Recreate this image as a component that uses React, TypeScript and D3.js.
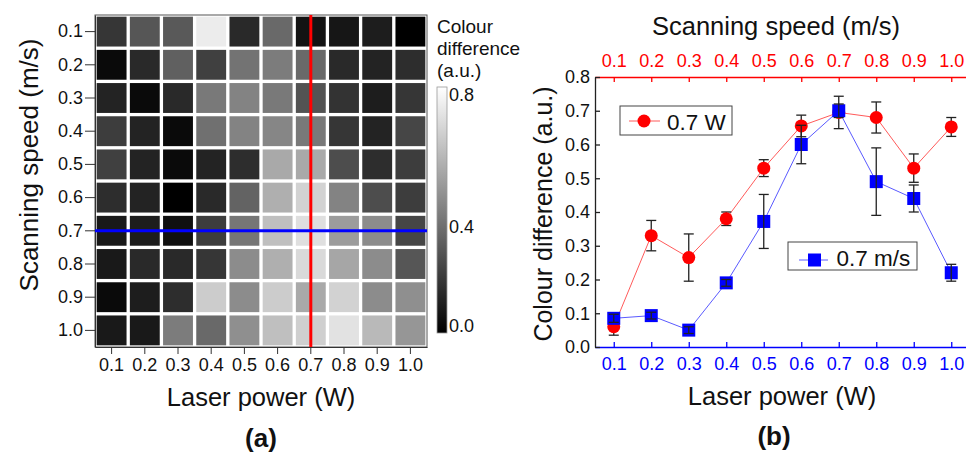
import { useRef, useEffect } from 'react';
import * as d3 from 'd3';

const powers = ['0.1', '0.2', '0.3', '0.4', '0.5', '0.6', '0.7', '0.8', '0.9', '1.0'];
const speeds = ['0.1', '0.2', '0.3', '0.4', '0.5', '0.6', '0.7', '0.8', '0.9', '1.0'];

// rows: scanning speed 0.1 -> 1.0, columns: laser power 0.1 -> 1.0
const heatValues = [
  [0.17, 0.27, 0.28, 0.74, 0.13, 0.33, 0.06, 0.07, 0.09, 0.0],
  [0.03, 0.13, 0.3, 0.2, 0.36, 0.39, 0.33, 0.13, 0.11, 0.14],
  [0.11, 0.03, 0.13, 0.38, 0.41, 0.38, 0.26, 0.16, 0.09, 0.17],
  [0.19, 0.11, 0.03, 0.35, 0.41, 0.42, 0.38, 0.17, 0.11, 0.22],
  [0.2, 0.11, 0.03, 0.11, 0.14, 0.53, 0.53, 0.24, 0.14, 0.19],
  [0.14, 0.11, 0.0, 0.13, 0.31, 0.55, 0.66, 0.41, 0.24, 0.19],
  [0.08, 0.09, 0.05, 0.19, 0.37, 0.6, 0.7, 0.49, 0.44, 0.22],
  [0.08, 0.13, 0.13, 0.17, 0.44, 0.55, 0.68, 0.52, 0.44, 0.27],
  [0.03, 0.09, 0.14, 0.64, 0.44, 0.64, 0.53, 0.66, 0.44, 0.45],
  [0.08, 0.08, 0.39, 0.33, 0.45, 0.6, 0.65, 0.71, 0.58, 0.47],
];

const colourTicks = [0, 0.4, 0.8];
const yTicks = [0, 0.1, 0.2, 0.3, 0.4, 0.5, 0.6, 0.7, 0.8];
const xValues = [0.1, 0.2, 0.3, 0.4, 0.5, 0.6, 0.7, 0.8, 0.9, 1.0];

// 0.7 W, against scanning speed (top axis)
const powerSeries = [0.06, 0.33, 0.265, 0.38, 0.53, 0.655, 0.695, 0.68, 0.53, 0.652];
const powerErrors = [0.025, 0.045, 0.07, 0.02, 0.025, 0.032, 0.048, 0.046, 0.042, 0.028];
// 0.7 m/s, against laser power (bottom axis)
const speedSeries = [0.085, 0.093, 0.05, 0.19, 0.372, 0.6, 0.7, 0.49, 0.44, 0.22];
const speedErrors = [0.012, 0.01, 0.01, 0.01, 0.08, 0.057, 0.02, 0.1, 0.04, 0.025];

const FONT = '"Liberation Sans", Arial, Helvetica, sans-serif';

function App() {
  const svgRef = useRef(null);
  const width = 966;
  const height = 458;

  useEffect(() => {
    const svg = d3.select(svgRef.current);
    svg.selectAll('*').remove();
    svg.style('font-family', FONT);

    // ---------- (a) heatmap ----------
    const hm = { left: 95, right: 427, top: 15, bottom: 347 };
    const x = d3.scaleBand().domain(powers).range([hm.left, hm.right]).paddingInner(0.1).paddingOuter(0.05);
    const y = d3.scaleBand().domain(speeds).range([hm.top, hm.bottom]).paddingInner(0.1).paddingOuter(0.05);
    const grey = d3.scaleLinear<string>().domain([0, 0.8]).range(['#000000', '#ffffff']).clamp(true);

    svg
      .append('rect')
      .attr('x', hm.left)
      .attr('y', hm.top)
      .attr('width', hm.right - hm.left)
      .attr('height', hm.bottom - hm.top)
      .attr('fill', '#fff');

    const cells = heatValues.flatMap((row, i) => row.map((v, j) => ({ speed: speeds[i], power: powers[j], v })));
    svg
      .append('g')
      .selectAll('rect')
      .data(cells)
      .join('rect')
      .attr('x', (d) => x(d.power))
      .attr('y', (d) => y(d.speed))
      .attr('width', x.bandwidth())
      .attr('height', y.bandwidth())
      .attr('fill', (d) => grey(d.v));

    svg
      .append('rect')
      .attr('x', hm.left)
      .attr('y', hm.top)
      .attr('width', hm.right - hm.left)
      .attr('height', hm.bottom - hm.top)
      .attr('fill', 'none')
      .attr('stroke', '#555')
      .attr('stroke-width', 1);

    const ax = svg
      .append('g')
      .attr('transform', `translate(0,${hm.bottom})`)
      .call(d3.axisBottom(x).tickSizeInner(7).tickSizeOuter(0).tickPadding(4));
    ax.select('.domain').attr('stroke', '#333');
    ax.selectAll('.tick line').attr('stroke', '#333');
    ax.selectAll('text').attr('font-size', 18).attr('font-family', FONT).attr('fill', '#111');

    const ay = svg
      .append('g')
      .attr('transform', `translate(${hm.left},0)`)
      .call(d3.axisLeft(y).tickSizeInner(10).tickSizeOuter(0).tickPadding(2));
    ay.select('.domain').attr('stroke', '#333');
    ay.selectAll('.tick line').attr('stroke', '#333');
    ay.selectAll('text').attr('font-size', 18).attr('font-family', FONT).attr('fill', '#111');

    // marker lines
    svg
      .append('line')
      .attr('x1', x('0.7') + x.bandwidth() / 2)
      .attr('x2', x('0.7') + x.bandwidth() / 2)
      .attr('y1', hm.top)
      .attr('y2', hm.bottom)
      .attr('stroke', '#ff0000')
      .attr('stroke-width', 3);
    svg
      .append('line')
      .attr('x1', hm.left)
      .attr('x2', hm.right)
      .attr('y1', y('0.7') + y.bandwidth() / 2)
      .attr('y2', y('0.7') + y.bandwidth() / 2)
      .attr('stroke', '#0000ff')
      .attr('stroke-width', 3);

    svg
      .append('text')
      .attr('x', 261)
      .attr('y', 406)
      .attr('text-anchor', 'middle')
      .attr('font-size', 25.5)
      .attr('fill', '#111')
      .text('Laser power (W)');
    svg
      .append('text')
      .attr('transform', 'translate(38,165) rotate(-90)')
      .attr('text-anchor', 'middle')
      .attr('font-size', 26)
      .attr('fill', '#111')
      .text('Scanning speed (m/s)');
    svg
      .append('text')
      .attr('x', 261)
      .attr('y', 447)
      .attr('text-anchor', 'middle')
      .attr('font-size', 26)
      .attr('font-weight', 700)
      .attr('fill', '#111')
      .text('(a)');

    // colour bar
    const grad = svg
      .append('defs')
      .append('linearGradient')
      .attr('id', 'cbar')
      .attr('x1', 0)
      .attr('y1', 1)
      .attr('x2', 0)
      .attr('y2', 0);
    grad.selectAll('stop')
      .data(colourTicks)
      .join('stop')
      .attr('offset', (d) => d / 0.8)
      .attr('stop-color', (d) => grey(d));
    svg
      .append('rect')
      .attr('x', 437)
      .attr('y', 87)
      .attr('width', 10)
      .attr('height', 246)
      .attr('fill', 'url(#cbar)')
      .attr('stroke', '#999')
      .attr('stroke-width', 0.8);
    const cbLabelY = d3.scaleLinear().domain([0, 0.4, 0.8]).range([326, 227, 95]);
    svg
      .append('g')
      .selectAll('text')
      .data(colourTicks)
      .join('text')
      .attr('x', 449)
      .attr('y', (d) => cbLabelY(d))
      .attr('dy', '0.36em')
      .attr('font-size', 18)
      .attr('fill', '#111')
      .text((d) => d3.format('.1f')(d));
    svg
      .append('text')
      .attr('font-size', 19)
      .attr('fill', '#111')
      .selectAll('tspan')
      .data(['Colour', 'difference', '(a.u.)'])
      .join('tspan')
      .attr('x', 437)
      .attr('y', (_, i) => 33 + i * 22)
      .text((d) => d);

    // ---------- (b) line chart ----------
    const xs = d3.scaleLinear().domain([0.05, 1.05]).range([595, 970]);
    const ys = d3.scaleLinear().domain([0, 0.8]).range([347, 77]);
    const fmt = d3.format('.1f');

    const bottom = svg
      .append('g')
      .attr('transform', 'translate(0,347)')
      .call(d3.axisBottom(xs).tickValues(xValues).tickFormat(fmt).tickSizeInner(-5).tickSizeOuter(0).tickPadding(10));
    bottom.selectAll('.domain, .tick line').attr('stroke', '#0000ff').attr('stroke-width', 1.3);
    bottom.selectAll('text').attr('font-size', 18).attr('font-family', FONT).attr('fill', '#0000ff');

    const top = svg
      .append('g')
      .attr('transform', 'translate(0,77)')
      .call(d3.axisTop(xs).tickValues(xValues).tickFormat(fmt).tickSizeInner(-5).tickSizeOuter(0).tickPadding(10));
    top.selectAll('.domain, .tick line').attr('stroke', '#ff0000').attr('stroke-width', 1.3);
    top.selectAll('text').attr('font-size', 18).attr('font-family', FONT).attr('fill', '#ff0000');

    const left = svg
      .append('g')
      .attr('transform', 'translate(595,0)')
      .call(d3.axisLeft(ys).tickValues(yTicks).tickFormat(fmt).tickSizeInner(-5).tickSizeOuter(0).tickPadding(5));
    left.selectAll('.domain, .tick line').attr('stroke', '#222').attr('stroke-width', 1.3);
    left.selectAll('text').attr('font-size', 18).attr('font-family', FONT).attr('fill', '#111');

    const line = d3
      .line<number>()
      .x((_, i) => xs(xValues[i]))
      .y((d) => ys(d));

    svg.append('path').attr('d', line(powerSeries)).attr('fill', 'none').attr('stroke', '#ff5a5a').attr('stroke-width', 1);
    svg.append('path').attr('d', line(speedSeries)).attr('fill', 'none').attr('stroke', '#5a5aff').attr('stroke-width', 1);

    const errorBars = (vals: number[], errs: number[]) => {
      const g = svg.append('g').attr('stroke', '#222').attr('stroke-width', 1.3).attr('fill', 'none');
      vals.forEach((v, i) => {
        const cx = xs(xValues[i]);
        const y1 = ys(v + errs[i]);
        const y2 = ys(v - errs[i]);
        g.append('line').attr('x1', cx).attr('x2', cx).attr('y1', y1).attr('y2', y2);
        g.append('line').attr('x1', cx - 5).attr('x2', cx + 5).attr('y1', y1).attr('y2', y1);
        g.append('line').attr('x1', cx - 5).attr('x2', cx + 5).attr('y1', y2).attr('y2', y2);
      });
    };

    errorBars(powerSeries, powerErrors);
    svg
      .append('g')
      .selectAll('circle')
      .data(powerSeries)
      .join('circle')
      .attr('cx', (_, i) => xs(xValues[i]))
      .attr('cy', (d) => ys(d))
      .attr('r', 6.5)
      .attr('fill', '#ff0000');

    svg
      .append('g')
      .selectAll('rect')
      .data(speedSeries)
      .join('rect')
      .attr('x', (_, i) => xs(xValues[i]) - 6.5)
      .attr('y', (d) => ys(d) - 6.5)
      .attr('width', 13)
      .attr('height', 13)
      .attr('fill', '#0000ff');
    errorBars(speedSeries, speedErrors);

    // legends
    const lg1 = svg.append('g').attr('transform', 'translate(620,106)');
    lg1.append('rect').attr('width', 112).attr('height', 29).attr('fill', '#fff').attr('stroke', '#444');
    lg1.append('line').attr('x1', 9).attr('x2', 40).attr('y1', 15).attr('y2', 15).attr('stroke', '#ff5a5a');
    lg1.append('circle').attr('cx', 24).attr('cy', 15).attr('r', 6.5).attr('fill', '#ff0000');
    lg1.append('text').attr('x', 47).attr('y', 23.5).attr('font-size', 22.5).attr('fill', '#111').text('0.7 W');

    const lg2 = svg.append('g').attr('transform', 'translate(788,242)');
    lg2.append('rect').attr('width', 129).attr('height', 28).attr('fill', '#fff').attr('stroke', '#444');
    lg2.append('line').attr('x1', 11).attr('x2', 40).attr('y1', 18).attr('y2', 18).attr('stroke', '#5a5aff');
    lg2.append('rect').attr('x', 20).attr('y', 11.5).attr('width', 13).attr('height', 13).attr('fill', '#0000ff');
    lg2.append('text').attr('x', 48.5).attr('y', 24).attr('font-size', 22.5).attr('fill', '#111').text('0.7 m/s');

    svg
      .append('text')
      .attr('x', 776)
      .attr('y', 35)
      .attr('text-anchor', 'middle')
      .attr('font-size', 25.5)
      .attr('fill', '#111')
      .text('Scanning speed (m/s)');
    svg
      .append('text')
      .attr('transform', 'translate(552,214) rotate(-90)')
      .attr('text-anchor', 'middle')
      .attr('font-size', 25)
      .attr('fill', '#111')
      .text('Colour difference (a.u.)');
    svg
      .append('text')
      .attr('x', 782)
      .attr('y', 405)
      .attr('text-anchor', 'middle')
      .attr('font-size', 25.5)
      .attr('fill', '#111')
      .text('Laser power (W)');
    svg
      .append('text')
      .attr('x', 774)
      .attr('y', 445)
      .attr('text-anchor', 'middle')
      .attr('font-size', 26)
      .attr('font-weight', 700)
      .attr('fill', '#111')
      .text('(b)');
  }, []);

  return (
    <svg
      ref={svgRef}
      width={width}
      height={height}
      style={{ position: 'absolute', left: 0, top: 0, background: '#fff' }}
    ></svg>
  );
}

export default App;
